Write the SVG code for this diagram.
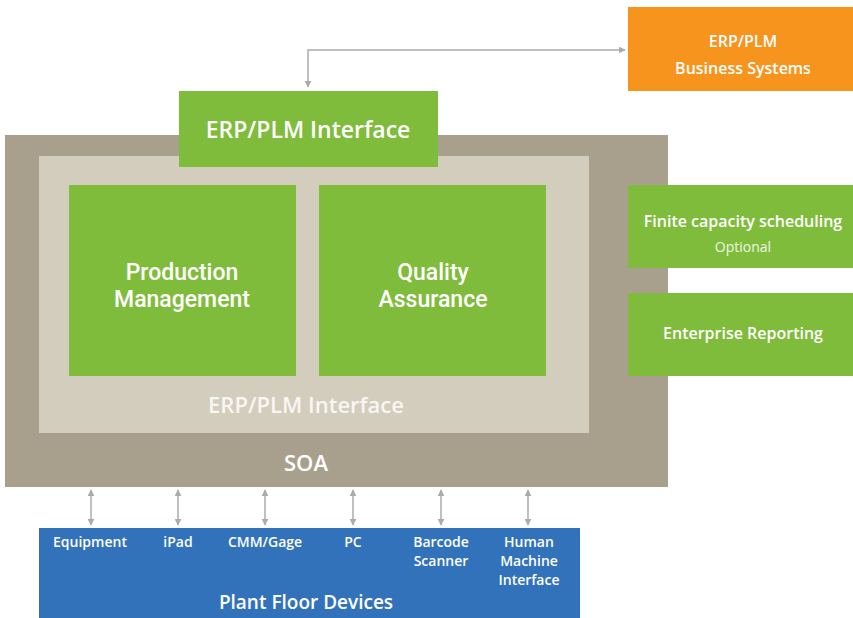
<svg xmlns="http://www.w3.org/2000/svg" width="853" height="618" viewBox="0 0 853 618">
<defs>
<marker id="ah" viewBox="0 0 10 10" refX="9" refY="5" markerWidth="7" markerHeight="7" orient="auto-start-reverse" markerUnits="userSpaceOnUse">
<path d="M0,0 L10,5 L0,10 z" fill="#ababab"/>
</marker>
<style>
.t{font-family:"Open Sans","Liberation Sans",sans-serif;font-weight:600;fill:#fff;text-anchor:middle}
.big{font-family:Roboto,"Open Sans",sans-serif;font-weight:500;font-size:23px}
.g{fill:#80bc3c}
.c{stroke:#ababab;stroke-width:1.5;fill:none;marker-start:url(#ah);marker-end:url(#ah)}
</style>
</defs>
<rect width="853" height="618" fill="#fff"/>
<g id="soa">
<rect x="5" y="135" width="663" height="352" fill="#a8a08d"/>
<text class="t" x="306" y="471" font-size="22">SOA</text>
</g>
<g id="inner">
<rect x="39" y="156" width="550" height="277" fill="#d3cdbe"/>
<text class="t" x="306" y="413" font-size="22" style="fill:#f8f6f2">ERP/PLM Interface</text>
</g>
<g id="erp-interface">
<rect class="g" x="179" y="91" width="259" height="76"/>
<text class="t" x="308" y="138" font-size="23">ERP/PLM Interface</text>
</g>
<g id="business">
<rect x="628" y="7" width="225" height="84" fill="#f7941e"/>
<text class="t" x="743" y="47" font-size="16">ERP/PLM</text>
<text class="t" x="743" y="74" font-size="16">Business Systems</text>
</g>
<g id="production">
<rect class="g" x="69" y="185" width="227" height="191"/>
<text class="t big" x="182" y="280">Production</text>
<text class="t big" x="182" y="307">Management</text>
</g>
<g id="quality">
<rect class="g" x="319" y="185" width="227" height="191"/>
<text class="t big" x="433" y="280">Quality</text>
<text class="t big" x="433" y="307">Assurance</text>
</g>
<g id="finite">
<rect class="g" x="628" y="185" width="225" height="83"/>
<text class="t" x="743" y="227" font-size="16">Finite capacity scheduling</text>
<text class="t" x="743" y="252" font-size="14" style="font-weight:400;fill:#eef6e4">Optional</text>
</g>
<g id="reporting">
<rect class="g" x="628" y="293" width="225" height="83"/>
<text class="t" x="743" y="339" font-size="16">Enterprise Reporting</text>
</g>
<g id="plant">
<rect x="39" y="528" width="541" height="90" fill="#3272bb"/>
<text class="t" x="90" y="547" font-size="14">Equipment</text>
<text class="t" x="178" y="547" font-size="14">iPad</text>
<text class="t" x="265" y="547" font-size="14">CMM/Gage</text>
<text class="t" x="353" y="547" font-size="14">PC</text>
<text class="t" x="441" y="547" font-size="14">Barcode</text>
<text class="t" x="441" y="566" font-size="14">Scanner</text>
<text class="t" x="529" y="547" font-size="14">Human</text>
<text class="t" x="529" y="566" font-size="14">Machine</text>
<text class="t" x="529" y="585" font-size="14">Interface</text>
<text class="t" x="306" y="609" font-size="19">Plant Floor Devices</text>
</g>
<g id="connectors">
<path class="c" d="M308,87 V50 H625"/>
<path class="c" d="M91,490 V525"/>
<path class="c" d="M178,490 V525"/>
<path class="c" d="M265,490 V525"/>
<path class="c" d="M353,490 V525"/>
<path class="c" d="M441,490 V525"/>
<path class="c" d="M528,490 V525"/>
</g>
</svg>
